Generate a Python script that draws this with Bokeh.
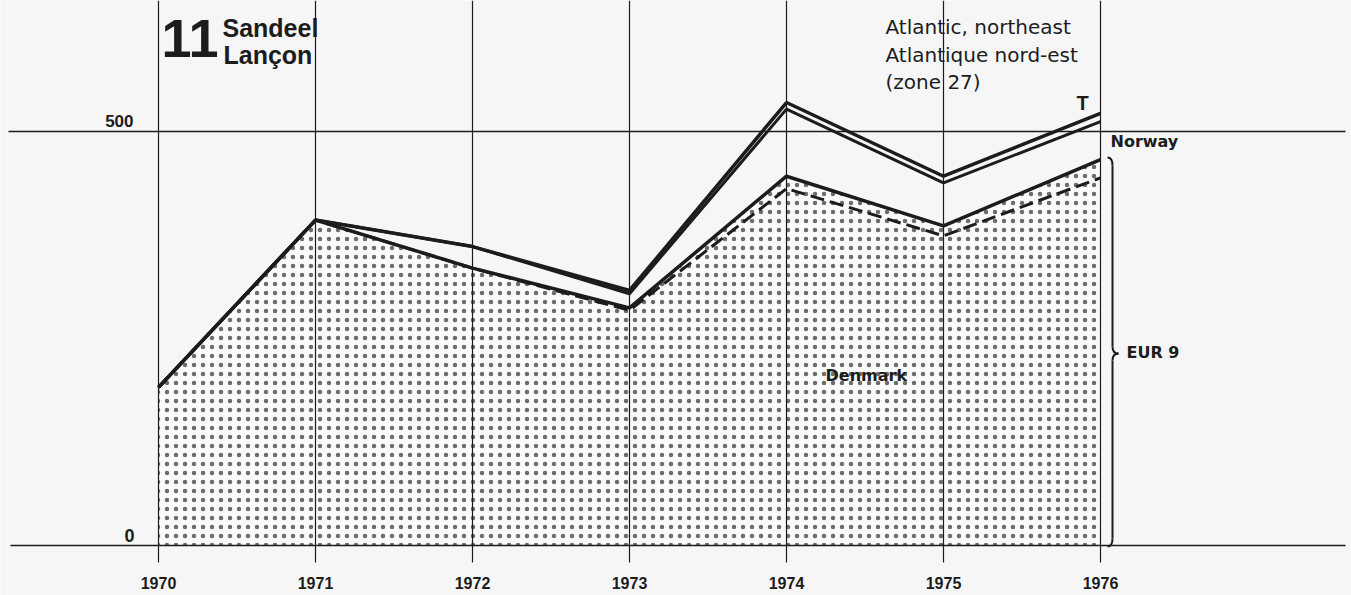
from bokeh.plotting import figure
from bokeh.models import Range1d, Label
from bokeh.embed import file_html
from bokeh.resources import INLINE

# ---- data (thousand tonnes) ----
years = [1970, 1971, 1972, 1973, 1974, 1975, 1976]
total = [191, 393, 361, 308, 535, 446, 522]
norway_top = [191, 393, 361, 304, 527, 438, 512]
eur9 = [191, 393, 335, 287, 446, 386, 466]
denmark = [191, 393, 335, 284, 431, 374, 444]
year_labels = ["1970", "1971", "1972", "1973", "1974", "1975", "1976"]
y_ticks = [0, 500]

# ---- page geometry helpers (page px -> data) ----
PX_PER_YEAR = 157.0
PX_PER_UNIT = 0.828
def X(px):
    return 1970 + (px - 158) / PX_PER_YEAR
def Y(py):
    return (545 - py) / PX_PER_UNIT

W, H = 1351, 595
p = figure(width=W, height=H, output_backend="svg", toolbar_location=None,
           x_range=Range1d(X(0), X(W)), y_range=Range1d(Y(H), Y(0)),
           min_border=0)
p.axis.visible = False
p.grid.visible = False
p.outline_line_color = None
p.background_fill_color = "#f6f6f6"
p.border_fill_color = "#f6f6f6"

INK = "#1c1c1c"
SHIFT = 7  # text baseline correction

# dotted EUR 9 area
p.varea(x=years, y1=[0] * len(years), y2=eur9, fill_color="#fafafa",
        hatch_pattern="dot", hatch_color="#222222", hatch_scale=9,
        hatch_weight=0.9, hatch_alpha=0.65)

# vertical year lines
p.segment(x0=years, y0=[Y(562)] * len(years), x1=years, y1=[Y(0)] * len(years),
          line_color=INK, line_width=1.2)
# horizontal reference lines
p.segment(x0=[X(8), X(10)], y0=y_ticks[::-1], x1=[X(1345), X(1345)], y1=y_ticks[::-1],
          line_color=INK, line_width=1.3)

# series lines
p.line(years, denmark, line_color=INK, line_width=3, line_dash="14 6")
p.line(years, eur9, line_color=INK, line_width=3.5)
p.line(years, norway_top, line_color=INK, line_width=3)
p.line(years, total, line_color=INK, line_width=3.5)

# brace for EUR 9
sx, lx, tx = X(1112), X(1107), X(1118)
p.quadratic(x0=[lx, sx, tx, sx], y0=[Y(157), Y(346), Y(353), Y(538)],
            x1=[sx, tx, sx, lx], y1=[Y(165), Y(353), Y(360), Y(546)],
            cx=[sx, sx, sx, sx], cy=[Y(157), Y(353), Y(353), Y(546)],
            line_color=INK, line_width=2)
p.segment(x0=[sx, sx], y0=[Y(165), Y(360)], x1=[sx, sx], y1=[Y(346), Y(538)],
          line_color=INK, line_width=2)

def lab(text, px, py, size, font="Liberation Sans", style="bold", align="left"):
    p.add_layout(Label(x=X(px), y=Y(py - SHIFT), text=text, text_font=font,
                       text_font_size=f"{size}px", text_font_style=style,
                       text_align=align, text_baseline="alphabetic",
                       text_color=INK))

# year labels
for yr, t in zip(years, year_labels):
    p.add_layout(Label(x=yr, y=Y(589 - SHIFT), text=t, text_font="Liberation Sans",
                       text_font_size="16px", text_font_style="bold",
                       text_align="center", text_baseline="alphabetic",
                       text_color=INK))
# y tick labels
lab(str(y_ticks[1]), 133, 127, 17, align="right")
lab(str(y_ticks[0]), 134, 542, 18, align="right")

# titles
lab("11", 161, 45, 54)
lab("Sandeel", 222, 34, 25)
lab("Lançon", 223, 61, 25)
lab("Atlantic, northeast", 885, 33, 20, font="DejaVu Sans", style="normal")
lab("Atlantique nord-est", 885, 61, 20, font="DejaVu Sans", style="normal")
lab("(zone 27)", 885, 88, 20, font="DejaVu Sans", style="normal")

# series labels
lab("T", 1076, 109, 20)
lab("Norway", 1110, 148, 16, font="DejaVu Sans")
lab("EUR 9", 1126, 359, 16, font="DejaVu Sans")
lab("Denmark", 825, 382, 16, font="DejaVu Sans")

open("out.html", "w").write(file_html(p, INLINE))
